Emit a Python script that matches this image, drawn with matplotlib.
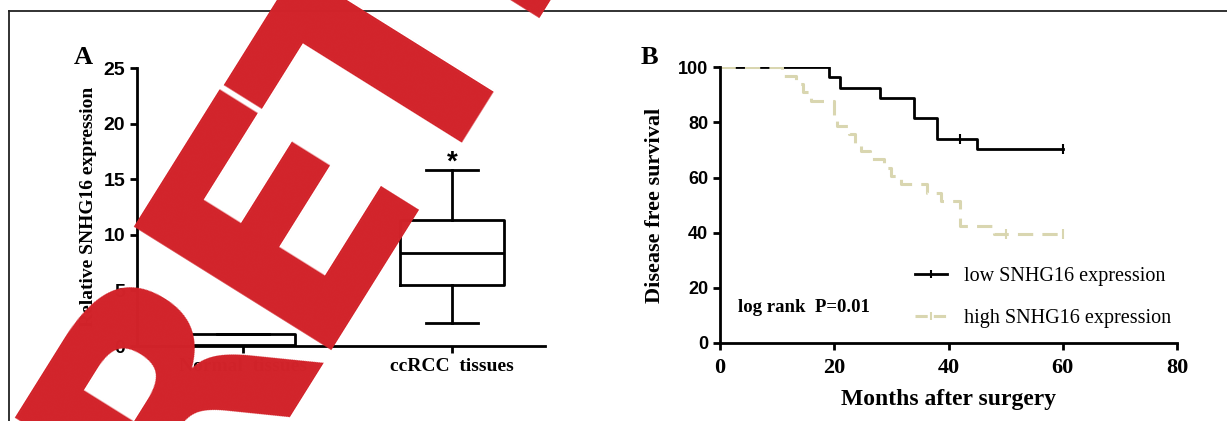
import numpy as np
import matplotlib.pyplot as plt
from matplotlib.lines import Line2D

plt.rcParams['font.family'] = 'Liberation Serif'

# panel A: box plot stats (relative SNHG16 expression)
groups = ['Normal  tissues', 'ccRCC  tissues']
whis_lo = [0.0, 2.1]
q1 = [0.02, 5.5]
medians = [0.08, 8.4]
q3 = [1.1, 11.3]
whis_hi = [1.1, 15.8]

# panel B: Kaplan-Meier curves (disease free survival, %)
low_t = [0, 19, 21, 28, 34, 38, 45, 60]
low_s = [100, 96.3, 92.6, 88.9, 81.5, 74.1, 70.2, 70.2]
low_cens_t = [42, 60]
low_cens_s = [74.1, 70.2]

high_t = [0, 10.8, 13.3, 14.6, 16.0, 20.0, 20.5, 22.6, 23.7, 24.6, 26.3, 28.7,
          30.0, 31.7, 36.2, 38.6, 42.0, 47.9, 60]
high_s = [100, 97.0, 93.9, 90.9, 87.9, 81.8, 78.8, 75.8, 72.7, 69.7, 66.7, 63.6,
          60.6, 57.6, 54.5, 51.5, 42.4, 39.4, 39.4]
high_cens_t = [50, 60]
high_cens_s = [39.4, 39.4]

beige = '#d9d6b0'
sans = 'Liberation Sans'

W, H = 1227, 421
fig = plt.figure(figsize=(W / 100, H / 100), dpi=100)

# ---- A
axA = fig.add_axes([0.1117, 0.178, 0.3325, 0.6603])
stats = []
for i in range(len(groups)):
    stats.append(dict(label=groups[i], whislo=whis_lo[i], q1=q1[i], med=medians[i],
                      q3=q3[i], whishi=whis_hi[i]))
lp = dict(color='k', lw=2)
axA.bxp(stats, positions=[1, 2], widths=0.5, showfliers=False,
        boxprops=lp, whiskerprops=lp, capprops=lp, medianprops=lp)
axA.set_xlim(0.493, 2.445)
axA.set_ylim(0, 25)
axA.set_yticks([0, 5, 10, 15, 20, 25])
axA.set_yticklabels(['0', '5', '10', '15', '20', '25'], family=sans, weight='bold', fontsize=14)
axA.set_xticks([1, 2])
axA.set_xticklabels(groups, weight='bold', fontsize=14)
axA.set_ylabel('Relative SNHG16 expression', weight='bold', fontsize=14, labelpad=5)
axA.text(2, 15.3, '*', ha='center', va='bottom', fontsize=20, weight='bold', family=sans)

# ---- B
axB = fig.add_axes([0.5868, 0.1853, 0.3725, 0.6549])
axB.step(low_t, low_s, where='post', color='k', lw=2)
axB.plot(low_cens_t, low_cens_s, ls='none', marker='|', ms=7, mew=1.5, color='k')
axB.step(high_t, high_s, where='post', color=beige, lw=2.2, dashes=(5, 3))
axB.plot(high_cens_t, high_cens_s, ls='none', marker='|', ms=7, mew=1.5, color=beige)
axB.set_xlim(0, 80)
axB.set_ylim(0, 100)
axB.set_xticks([0, 20, 40, 60, 80])
axB.set_xticklabels(['0', '20', '40', '60', '80'], weight='bold', fontsize=16)
axB.set_yticks([0, 20, 40, 60, 80, 100])
axB.set_yticklabels(['0', '20', '40', '60', '80', '100'], family=sans, weight='bold', fontsize=13)
axB.tick_params(axis='x', pad=6)
axB.set_xlabel('Months after surgery', weight='bold', fontsize=17, labelpad=8)
axB.set_ylabel('Disease free survival', weight='bold', fontsize=16, labelpad=9)
axB.text(0.039, 0.127, 'log rank  P=0.01', transform=axB.transAxes, weight='bold',
         fontsize=13.5, va='center')

handles = [Line2D([], [], color='k', lw=2, marker='|', ms=6, mew=1.5),
           Line2D([], [], color=beige, lw=2.2, dashes=(4, 2), marker='|', ms=6, mew=1.5)]
axB.legend(handles, ['low SNHG16 expression', 'high SNHG16 expression'],
           loc='upper left', bbox_to_anchor=(0.409, 0.305), frameon=False,
           fontsize=14.5, handlelength=1.6, handletextpad=0.85,
           labelspacing=1.15, borderaxespad=0)

for ax in (axA, axB):
    ax.spines['top'].set_visible(False)
    ax.spines['right'].set_visible(False)
    ax.spines['left'].set_linewidth(2)
    ax.spines['bottom'].set_linewidth(2)
    ax.tick_params(width=2, length=5, direction='out')

fig.text(83 / W, 1 - 58 / H, 'A', ha='center', va='center', fontsize=19, weight='bold')
fig.text(649 / W, 1 - 57 / H, 'B', ha='center', va='center', fontsize=19, weight='bold')

# frame
fig.add_artist(Line2D([9 / W, 1], [1 - 11 / H, 1 - 11 / H], color='#222222', lw=1.3))
fig.add_artist(Line2D([9 / W, 9 / W], [0, 1 - 11 / H], color='#222222', lw=1.3))

# retraction watermark, letter by letter (baseline origins in pixels from top-left)
wm_letters = 'RETRACTED'
wm_pos = [(184, 541), (303, 350), (420, 208), (511, 18)]
ang = np.deg2rad(58)
while len(wm_pos) < len(wm_letters):
    x0, y0 = wm_pos[-1]
    wm_pos.append((x0 + 205 * np.cos(ang), y0 - 205 * np.sin(ang)))
for ch, (px, py) in zip(wm_letters, wm_pos):
    fig.text(px / W, 1 - py / H, ch, rotation=58, rotation_mode='anchor',
             ha='left', va='baseline', fontsize=230, weight='bold',
             family='DejaVu Sans', color='#d2232a', zorder=10)

fig.savefig('out.png', dpi=100)
